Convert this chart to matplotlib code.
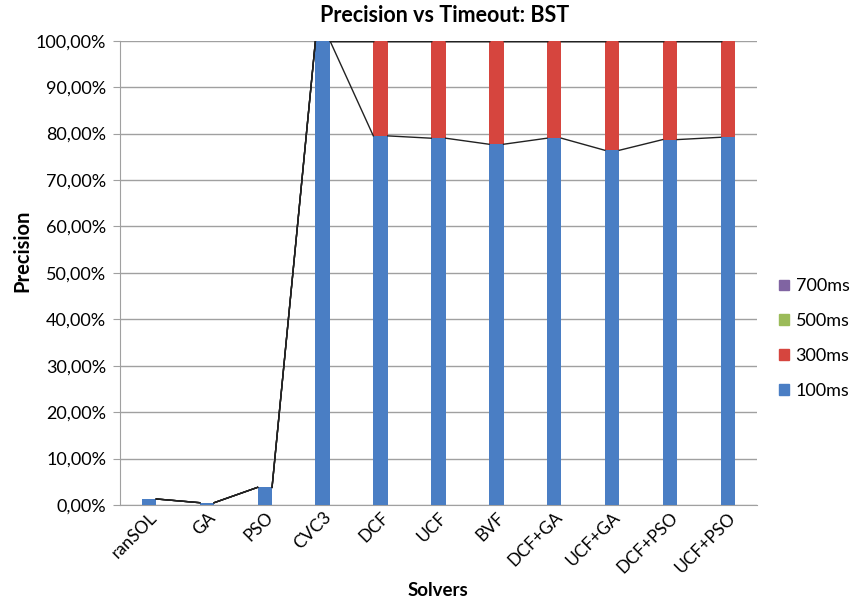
import numpy as np
import matplotlib
matplotlib.use("Agg")
import matplotlib.pyplot as plt
from matplotlib.patches import Patch

plt.rcParams['font.family'] = ['Lato', 'DejaVu Sans']

solvers = ["ranSOL", "GA", "PSO", "CVC3", "DCF", "UCF", "BVF",
           "DCF+GA", "UCF+GA", "DCF+PSO", "UCF+PSO"]
# precision (%) per timeout, stacked
p100 = [1.3, 0.5, 3.8, 100.0, 79.5, 79.0, 77.7, 79.0, 76.4, 78.7, 79.2]
p300 = [0.0, 0.0, 0.0, 0.0, 20.5, 21.0, 22.3, 21.0, 23.6, 21.3, 20.8]
p500 = [0.0] * 11
p700 = [0.0] * 11
series = ["100ms", "300ms", "500ms", "700ms"]
colors = ["#4A7EC4", "#D6453E", "#9BBB59", "#8064A2"]

W, H = 858, 603
fig = plt.figure(figsize=(W / 100, H / 100), dpi=100)
ax = fig.add_axes([0.14, 0.1625, 0.742, 0.77])

x = np.arange(len(solvers))
w = 0.25
bottom = np.zeros(len(solvers))
tops = []
for vals, c in zip([p100, p300, p500, p700], colors):
    vals = np.array(vals)
    ax.bar(x, vals, w, bottom=bottom, color=c, zorder=3)
    bottom = bottom + vals
    tops.append(bottom.copy())

# Excel-style series lines connecting the tops of each segment
for t in tops:
    for i in range(len(solvers) - 1):
        ax.plot([x[i] + w / 2, x[i + 1] - w / 2], [t[i], t[i + 1]],
                color="#222222", lw=1.0, zorder=4)

ax.set_xlim(-0.5, len(solvers) - 0.5)
ax.set_ylim(0, 100)
ax.set_yticks(np.arange(0, 101, 10))
ax.set_yticklabels([f"{v},00%" for v in range(0, 101, 10)], fontsize=13)
ax.set_xticks(x)
ax.set_xticklabels(solvers, rotation=45, ha="right", rotation_mode="anchor", fontsize=12.5)
ax.tick_params(axis="x", length=0, pad=3)
ax.tick_params(axis="y", length=5, color="#A0A0A0", pad=5)
ax.grid(axis="y", color="#A0A0A0", lw=1, zorder=0)
for s in ["top", "right"]:
    ax.spines[s].set_visible(False)
for s in ["left", "bottom"]:
    ax.spines[s].set_color("#A0A0A0")

# titles placed in figure pixels, like the reference
fig.text(445 / W, 1 - 15 / H, "Precision vs Timeout: BST", fontsize=15.5,
         fontweight="bold", ha="center", va="center")
fig.text(22 / W, 1 - 251 / H, "Precision", fontsize=14.5, fontweight="bold",
         rotation=90, ha="center", va="center")
fig.text(438 / W, 1 - 590 / H, "Solvers", fontsize=13.5, fontweight="bold",
         ha="center", va="center")

handles = [Patch(color=c, label=s) for s, c in zip(series, colors)][::-1]
ax.legend(handles=handles, loc="center left", bbox_to_anchor=(1.01, 0.358),
          frameon=False, fontsize=13, handlelength=0.55, handleheight=0.55,
          labelspacing=1.05, handletextpad=0.35)

fig.savefig("out.png", dpi=100)
